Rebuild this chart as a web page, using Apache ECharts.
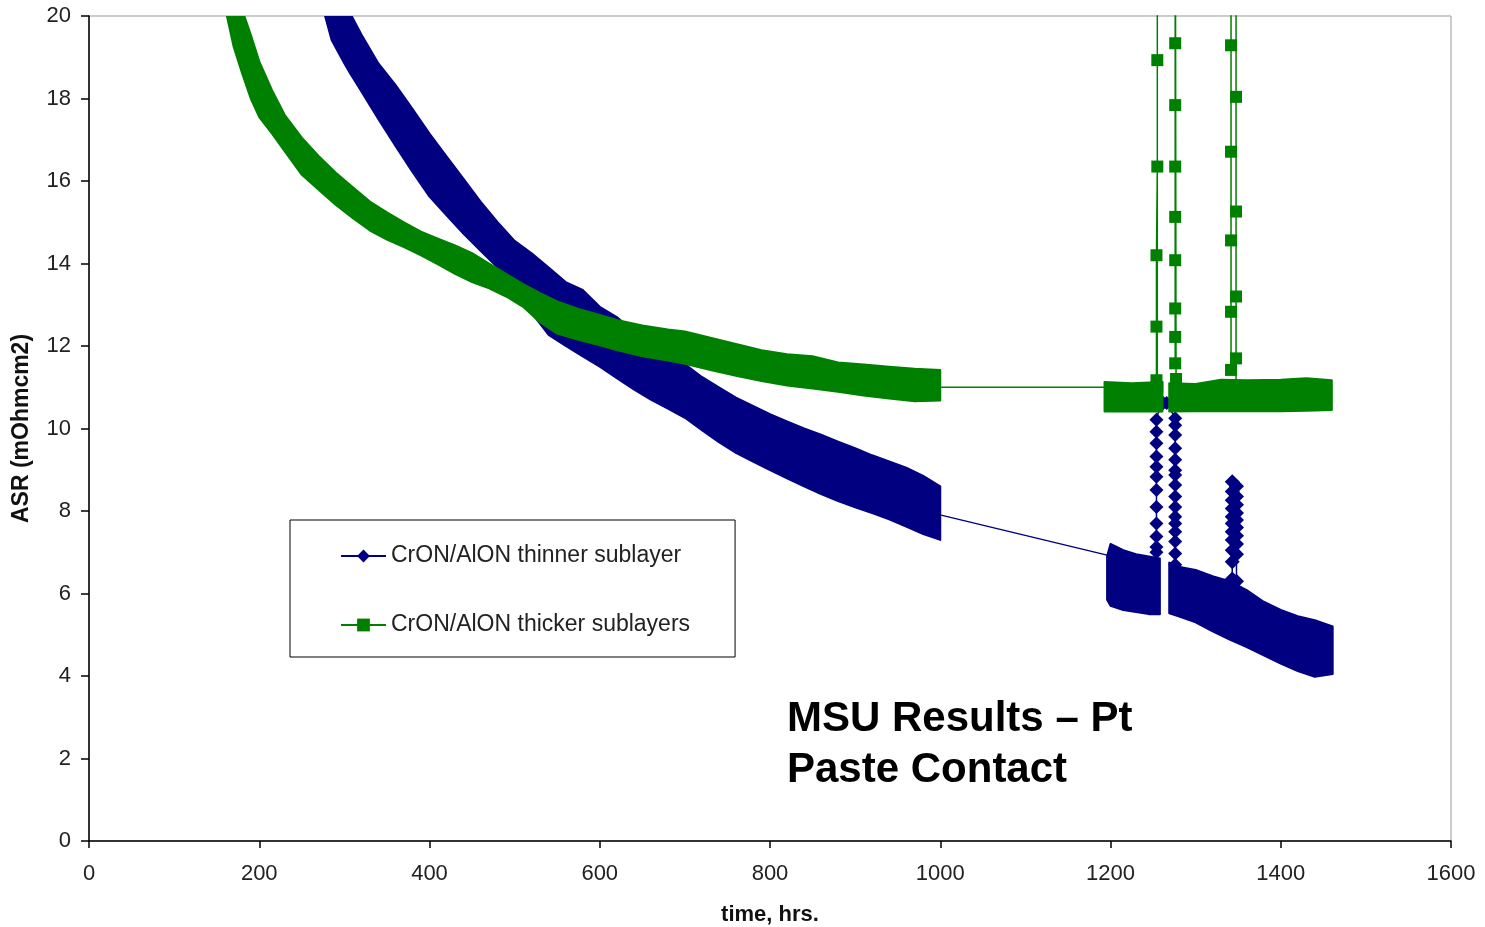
<!DOCTYPE html>
<html>
<head>
<meta charset="utf-8">
<script src="https://cdn.jsdelivr.net/npm/echarts@6/dist/echarts.min.js"></script>
<style>html,body{margin:0;padding:0;background:#fff}#c{width:1485px;height:927px}</style>
</head>
<body>
<div id="c"></div>
<script>
// ---- names ----
const thinName = 'CrON/AlON thinner sublayer';
const thickName = 'CrON/AlON thicker sublayers';

// ---- thinner sublayer: dense data band (upper/lower edge of the point cloud) ----
const thinX1  = [276, 285, 300, 307, 320, 340, 360, 380, 400, 420, 440, 460, 480, 500, 520, 540, 560, 580, 600, 620, 640, 660, 680, 700, 720, 740, 760, 780, 800, 820, 840, 860, 880, 900, 920, 940, 960, 980, 1000];
const thinHi1 = [20.5, 20.5, 20.5, 20.06, 19.55, 18.85, 18.33, 17.75, 17.15, 16.6, 16.05, 15.5, 15.0, 14.55, 14.25, 13.9, 13.55, 13.36, 12.95, 12.7, 12.35, 12.05, 11.85, 11.56, 11.25, 11.0, 10.75, 10.55, 10.35, 10.17, 10.0, 9.85, 9.68, 9.52, 9.35, 9.2, 9.05, 8.85, 8.6];
const thinLo1 = [20.1, 19.42, 18.85, 18.6, 18.17, 17.5, 16.85, 16.22, 15.62, 15.17, 14.72, 14.31, 13.9, 13.35, 12.8, 12.27, 12.0, 11.75, 11.5, 11.22, 10.95, 10.7, 10.48, 10.26, 9.96, 9.67, 9.41, 9.2, 8.99, 8.79, 8.6, 8.41, 8.24, 8.09, 7.95, 7.8, 7.62, 7.44, 7.3];

const thinX2  = [1196, 1200, 1215, 1230, 1245, 1258];
const thinHi2 = [6.9, 7.2, 7.05, 6.95, 6.9, 6.85];
const thinLo2 = [5.85, 5.7, 5.6, 5.55, 5.5, 5.5];

const thinX3  = [1269, 1280, 1300, 1320, 1340, 1360, 1380, 1400, 1420, 1440, 1461];
const thinHi3 = [6.75, 6.65, 6.57, 6.42, 6.3, 6.08, 5.8, 5.6, 5.45, 5.35, 5.2];
const thinLo3 = [5.52, 5.45, 5.3, 5.08, 4.88, 4.7, 4.5, 4.3, 4.12, 3.98, 4.05];

// ---- thinner sublayer: individual points / connecting line ----
const thinLinkX = [1001, 1196];
const thinLinkY = [7.9, 6.93];
const thinColX = [1254, 1254, 1254, 1254, 1254, 1254, 1254, 1254, 1254, 1254, 1254, 1254, 1258, 1262, 1266, 1276, 1276, 1276, 1276, 1276, 1276, 1276, 1276, 1276, 1276, 1276, 1276, 1276, 1276, 1276, 1276];
const thinColY = [7.0, 7.13, 7.38, 7.70, 8.10, 8.51, 8.83, 9.07, 9.32, 9.64, 9.92, 10.21, 10.55, 10.62, 10.62, 10.25, 10.08, 9.84, 9.52, 9.24, 8.99, 8.87, 8.63, 8.35, 8.10, 7.86, 7.70, 7.50, 7.26, 6.97, 6.7];
const thinSpikeX = [1343, 1343, 1343, 1343, 1343, 1343, 1343, 1343, 1343, 1343, 1343, 1348, 1348, 1348, 1348, 1348, 1348, 1348, 1348, 1348, 1348];
const thinSpikeY = [6.35, 6.77, 7.05, 7.30, 7.50, 7.70, 7.86, 8.06, 8.26, 8.47, 8.71, 8.6, 8.35, 8.15, 7.95, 7.78, 7.6, 7.4, 7.2, 6.95, 6.3];

// ---- thicker sublayers: dense data band ----
const thickX1  = [162, 170, 180, 190, 200, 215, 230, 250, 270, 290, 310, 330, 350, 370, 390, 410, 430, 450, 470, 490, 510, 530, 550, 575, 600, 620, 650, 680, 700, 730, 760, 790, 820, 850, 880, 910, 940, 970, 1000];
const thickHi1 = [20.5, 20.5, 20.15, 19.55, 18.9, 18.2, 17.6, 17.05, 16.6, 16.2, 15.85, 15.5, 15.24, 15.0, 14.77, 14.6, 14.44, 14.25, 14.0, 13.75, 13.5, 13.28, 13.08, 12.9, 12.75, 12.63, 12.5, 12.4, 12.35, 12.2, 12.05, 11.9, 11.8, 11.75, 11.6, 11.55, 11.5, 11.45, 11.42];
const thickLo1 = [20.0, 19.25, 18.6, 18.0, 17.55, 17.15, 16.72, 16.15, 15.78, 15.42, 15.1, 14.8, 14.58, 14.4, 14.2, 13.98, 13.75, 13.55, 13.4, 13.2, 12.95, 12.57, 12.3, 12.15, 12.02, 11.9, 11.75, 11.65, 11.57, 11.42, 11.28, 11.15, 11.04, 10.97, 10.89, 10.8, 10.73, 10.66, 10.68];

const thickX2  = [1193, 1225, 1261];
const thickHi2 = [11.13, 11.1, 11.13];
const thickLo2 = [10.41, 10.42, 10.41];

const thickX3  = [1269, 1300, 1330, 1360, 1400, 1430, 1460];
const thickHi3 = [11.1, 11.08, 11.18, 11.17, 11.18, 11.22, 11.17];
const thickLo3 = [10.41, 10.42, 10.42, 10.42, 10.42, 10.43, 10.45];

// ---- thicker sublayers: individual points / connecting line / spikes ----
const thickLinkX = [1001, 1193];
const thickLinkY = [11.0, 11.0];
const thickSpike1X = [1254, 1254, 1254, 1254, 1255, 1255, 1255, 1255];
const thickSpike1Y = [11.0, 11.17, 12.47, 14.2, 16.35, 18.93, 26, 11.0];
const thickSpike2X = [1276, 1276, 1276, 1276, 1276, 1276, 1276, 1276, 1276, 1277, 1277];
const thickSpike2Y = [11.58, 12.22, 12.91, 14.08, 15.13, 16.35, 17.84, 19.34, 26, 26, 11.2];
const thickSpike3X = [1341.6, 1341.6, 1341.6, 1341.6, 1341.6, 1341.6, 1347.5, 1347.5, 1347.5, 1347.5, 1347.5, 1347.5];
const thickSpike3Y = [11.42, 12.83, 14.56, 16.71, 19.29, 26, 26, 18.04, 15.26, 13.2, 11.7, 11.0];

// ---- axes ----
const xMin = 0, xMax = 1600, xStep = 200;
const yMin = 0, yMax = 20, yStep = 2;

const NAVY = '#000080';
const GREEN = '#008000';
const FONT = '"Liberation Sans", Arial, sans-serif';

const pts = (xs, ys) => xs.map((x, i) => [x, ys[i]]);

function band(id, xs, lo, hi, color, z) {
  return {
    type: 'custom', name: id, z: z, clip: true, silent: true,
    data: xs.map((x, i) => [x, lo[i], hi[i]]),
    encode: { x: 0, y: [1, 2] },
    renderItem: function (params, api) {
      if (params.dataIndex !== 0) return null;
      const top = xs.map((x, i) => api.coord([x, hi[i]]));
      const bot = xs.map((x, i) => api.coord([x, lo[i]])).reverse();
      return {
        type: 'polygon',
        shape: { points: top.concat(bot) },
        style: { fill: color, stroke: color, lineWidth: 2, lineJoin: 'round' }
      };
    }
  };
}

function line(name, data, color, symbol, size, showSym, z, w) {
  return {
    type: 'line', name: name, data: data, z: z,
    symbol: symbol, symbolSize: size, showSymbol: showSym, showAllSymbol: true,
    lineStyle: { color: color, width: w || 1.5 },
    itemStyle: { color: color, borderWidth: 0 },
    emphasis: { disabled: true }, silent: true, animation: false
  };
}

const chart = echarts.init(document.getElementById('c'), null, { renderer: 'canvas' });
chart.setOption({
  animation: false,
  backgroundColor: '#fff',
  title: {
    text: 'MSU Results – Pt\nPaste Contact',
    left: 787, top: 694, padding: 0,
    textStyle: { fontSize: 42, fontWeight: 'bold', lineHeight: 51, color: '#000', fontFamily: FONT }
  },
  legend: {
    data: [thinName, thickName],
    orient: 'vertical',
    left: 290, top: 520,
    padding: [24, 45, 20, 50],
    itemWidth: 45, itemHeight: 16, itemGap: 45,
    borderColor: '#000', borderWidth: 1,
    selectedMode: false,
    textStyle: { fontSize: 23, lineHeight: 24, color: '#222', fontFamily: FONT }
  },
  grid: { left: 89, right: 34, top: 16, bottom: 86, show: true, borderColor: '#999', borderWidth: 1, containLabel: false, outerBoundsMode: 'none' },
  xAxis: {
    type: 'value', min: xMin, max: xMax, interval: xStep,
    name: 'time, hrs.', nameLocation: 'middle', nameGap: 63,
    nameTextStyle: { fontSize: 22, fontWeight: 'bold', color: '#111', fontFamily: FONT },
    axisLine: { show: true, lineStyle: { color: '#000', width: 1.5 } },
    axisTick: { show: true, length: 7, lineStyle: { color: '#000', width: 1.5 } },
    axisLabel: { fontSize: 22, color: '#222', margin: 22, fontFamily: FONT, formatter: v => String(v) },
    splitLine: { show: false }
  },
  yAxis: {
    type: 'value', min: yMin, max: yMax, interval: yStep,
    name: 'ASR (mOhmcm2)', nameLocation: 'middle', nameGap: 56, nameRotate: 90,
    nameTextStyle: { fontSize: 23, fontWeight: 'bold', color: '#111', fontFamily: FONT },
    axisLine: { show: true, lineStyle: { color: '#000', width: 1.5 } },
    axisTick: { show: true, length: 8, lineStyle: { color: '#000', width: 1.5 } },
    axisLabel: { fontSize: 22, color: '#222', margin: 18, fontFamily: FONT, formatter: v => String(v) },
    splitLine: { show: false }
  },
  series: [
    line(thinName, pts(thinColX, thinColY), NAVY, 'diamond', 14, true, 2),
    line(thickName, pts(thickSpike1X, thickSpike1Y), GREEN, 'rect', 12, true, 5),
    line(thinName, pts(thinSpikeX, thinSpikeY), NAVY, 'diamond', 15, true, 2),
    line(thinName, pts(thinLinkX, thinLinkY), NAVY, 'none', 0, false, 2),
    line(thickName, pts(thickSpike2X, thickSpike2Y), GREEN, 'rect', 12, true, 5),
    line(thickName, pts(thickSpike3X, thickSpike3Y), GREEN, 'rect', 12, true, 5),
    line(thickName, pts(thickLinkX, thickLinkY), GREEN, 'none', 0, false, 4),
    band('thinBand1', thinX1, thinLo1, thinHi1, NAVY, 2),
    band('thinBand2', thinX2, thinLo2, thinHi2, NAVY, 2),
    band('thinBand3', thinX3, thinLo3, thinHi3, NAVY, 2),
    band('thickBand1', thickX1, thickLo1, thickHi1, GREEN, 4),
    band('thickBand2', thickX2, thickLo2, thickHi2, GREEN, 4),
    band('thickBand3', thickX3, thickLo3, thickHi3, GREEN, 4)
  ]
});
</script>
</body>
</html>
